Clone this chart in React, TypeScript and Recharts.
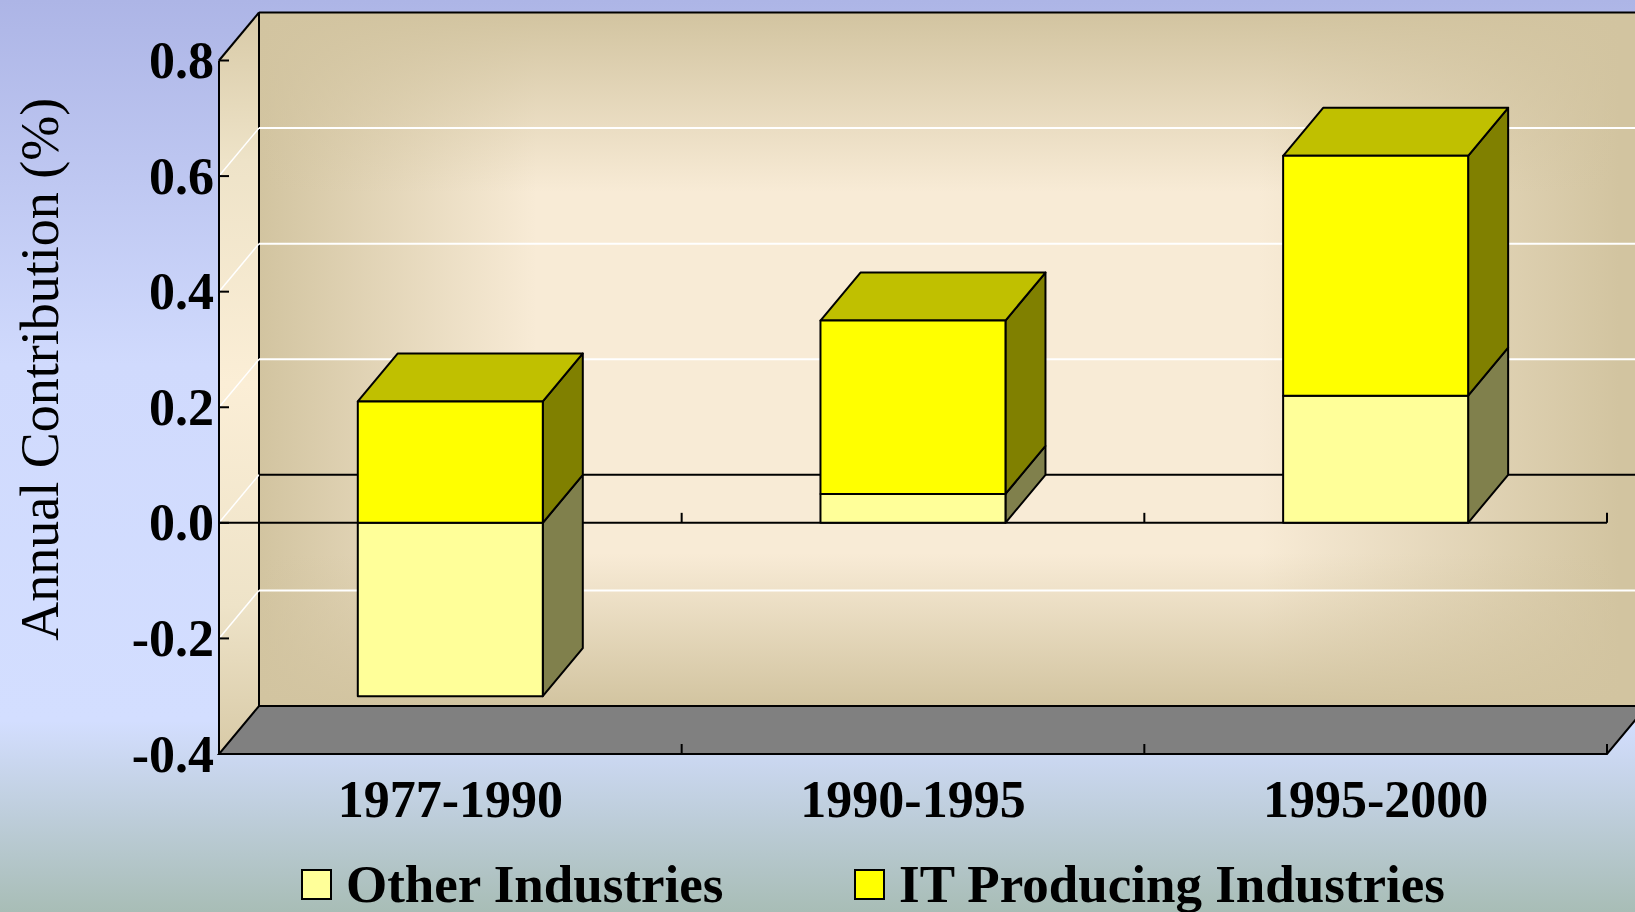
import { Bar, BarChart, Legend, ReferenceArea, ReferenceLine, XAxis, YAxis } from "recharts";

// values (annual contribution, %)
const periods = ["1977-1990", "1990-1995", "1995-2000"];
const otherIndustries = [-0.3, 0.05, 0.22];
const itProducing = [0.21, 0.3, 0.415];
const yTicks = [-0.4, -0.2, 0, 0.2, 0.4, 0.6, 0.8];
const wallGridValues = [-0.2, 0, 0.2, 0.4, 0.6];

const SERIES = [
  { key: "other", name: "Other Industries", front: "#FFFF99", side: "#80804C", top: "#C0C073" },
  { key: "it", name: "IT Producing Industries", front: "#FFFF00", side: "#808000", top: "#C0C000" },
];

const data = periods.map((p, i) => ({ period: p, other: otherIndustries[i], it: itProducing[i] }));

// depth of the fake 3d box
const DX = 40;
const DY = 48;
const FONT = '"Liberation Serif", "Times New Roman", serif';
const W = 1635;
const H = 912;

function Walls(props: any) {
  const { x, y, width, height } = props;
  const bottom = y + height;
  const right = x + width;
  const n = periods.length;
  const bounds: number[] = [];
  for (let i = 1; i <= n; i++) bounds.push(x + (width * i) / n);
  return (
    <g>
      <defs>
        <linearGradient id="wallH" x1="0" y1="0" x2="1" y2="0">
          <stop offset="0" stopColor="#D2C4A0" stopOpacity={1} />
          <stop offset="0.2" stopColor="#D2C4A0" stopOpacity={0} />
          <stop offset="0.72" stopColor="#D2C4A0" stopOpacity={0} />
          <stop offset="0.98" stopColor="#D2C4A0" stopOpacity={1} />
        </linearGradient>
        <linearGradient id="wallV" x1="0" y1="0" x2="0" y2="1">
          <stop offset="0" stopColor="#D2C4A0" stopOpacity={1} />
          <stop offset="0.26" stopColor="#D2C4A0" stopOpacity={0} />
          <stop offset="0.78" stopColor="#D2C4A0" stopOpacity={0} />
          <stop offset="1" stopColor="#D2C4A0" stopOpacity={1} />
        </linearGradient>
        <linearGradient id="sideWall" x1="0" y1="0" x2="0" y2="1">
          <stop offset="0" stopColor="#D8CAA7" />
          <stop offset="0.2" stopColor="#EEE3C8" />
          <stop offset="0.5" stopColor="#FBEED6" />
          <stop offset="0.8" stopColor="#EEE3C8" />
          <stop offset="1" stopColor="#D8CAA7" />
        </linearGradient>
      </defs>
      {/* back wall */}
      <rect x={x + DX} y={y - DY} width={width} height={height} fill="#F8EBD6" />
      <rect x={x + DX} y={y - DY} width={width} height={height} fill="url(#wallH)" />
      <rect x={x + DX} y={y - DY} width={width} height={height} fill="url(#wallV)" />
      {/* left wall */}
      <polygon
        points={`${x},${y} ${x + DX},${y - DY} ${x + DX},${bottom - DY} ${x},${bottom}`}
        fill="url(#sideWall)"
      />
      {/* floor */}
      <polygon
        points={`${x},${bottom} ${right},${bottom} ${right + DX},${bottom - DY} ${x + DX},${bottom - DY}`}
        fill="#808080"
        stroke="#000"
        strokeWidth={2}
      />
      <line x1={x} y1={y} x2={x + DX} y2={y - DY} stroke="#000" strokeWidth={2} />
      <line x1={x + DX} y1={y - DY} x2={right + DX} y2={y - DY} stroke="#000" strokeWidth={2} />
      <line x1={x + DX} y1={y - DY} x2={x + DX} y2={bottom - DY} stroke="#000" strokeWidth={2} />
      {bounds.map((bx, i) => (
        <line key={i} x1={bx} y1={bottom} x2={bx} y2={bottom - 10} stroke="#000" strokeWidth={2} />
      ))}
    </g>
  );
}

function wallLine(v: number) {
  return (p: any) => (
    <g>
      <line x1={p.x1} y1={p.y1} x2={p.x1 + DX} y2={p.y1 - DY} stroke="#FFFFFF" strokeWidth={1.5} />
      <line
        x1={p.x1 + DX}
        y1={p.y1 - DY}
        x2={p.x2 + DX}
        y2={p.y2 - DY}
        stroke={v === 0 ? "#000" : "#FFFFFF"}
        strokeWidth={2}
      />
    </g>
  );
}

function ZeroLine(p: any) {
  const n = periods.length;
  const marks: number[] = [];
  for (let i = 1; i <= n; i++) marks.push(p.x1 + ((p.x2 - p.x1) * i) / n);
  return (
    <g>
      <line x1={p.x1} y1={p.y1} x2={p.x2} y2={p.y2} stroke="#000" strokeWidth={2} />
      {marks.map((mx, i) => (
        <line key={i} x1={mx} y1={p.y1} x2={mx} y2={p.y1 - 10} stroke="#000" strokeWidth={2} />
      ))}
    </g>
  );
}

function makeBox(s: (typeof SERIES)[number], showTop: boolean) {
  return (p: any) => {
    const { x, y, width, height } = p;
    if (x == null || y == null) return <g />;
    const t = Math.min(y, y + height);
    const h = Math.abs(height);
    const r = x + width;
    return (
      <g stroke="#000" strokeWidth={2} strokeLinejoin="round">
        <polygon points={`${r},${t} ${r + DX},${t - DY} ${r + DX},${t + h - DY} ${r},${t + h}`} fill={s.side} />
        {showTop && <polygon points={`${x},${t} ${x + DX},${t - DY} ${r + DX},${t - DY} ${r},${t}`} fill={s.top} />}
        <rect x={x} y={t} width={width} height={h} fill={s.front} />
      </g>
    );
  };
}

function YTick(p: any) {
  const { x, y, payload } = p;
  return (
    <g>
      <line x1={x} y1={y} x2={x + 10} y2={y} stroke="#000" strokeWidth={2} />
      <text
        x={x - 5}
        y={y}
        textAnchor="end"
        dominantBaseline="central"
        fontFamily={FONT}
        fontWeight="bold"
        fontSize={52}
        fill="#000"
      >
        {Number(payload.value).toFixed(1)}
      </text>
    </g>
  );
}

function XTick(p: any) {
  const { x, y, payload } = p;
  return (
    <text
      x={x}
      y={y + 45}
      textAnchor="middle"
      dominantBaseline="central"
      fontFamily={FONT}
      fontWeight="bold"
      fontSize={52}
      fill="#000"
    >
      {payload.value}
    </text>
  );
}

function YTitle(p: any) {
  const vb = p.viewBox || {};
  const cx = (vb.x ?? 0) + 40;
  const cy = vb.y != null && vb.height != null ? vb.y + vb.height / 2 - 38 : 369;
  return (
    <text
      x={cx}
      y={cy}
      transform={`rotate(-90 ${cx} ${cy})`}
      textAnchor="middle"
      dominantBaseline="central"
      fontFamily={FONT}
      fontSize={54}
      fill="#000"
    >
      Annual Contribution (%)
    </text>
  );
}

function LegendRow() {
  return (
    <div style={{ display: "flex", alignItems: "center", height: 60, paddingLeft: 301 }}>
      {SERIES.map((s, i) => (
        <div key={s.key} style={{ display: "flex", alignItems: "center", width: i === 0 ? 553 : undefined }}>
          <div
            style={{
              width: 27,
              height: 27,
              background: s.front,
              border: "2px solid #000",
              marginRight: 14,
            }}
          />
          <span style={{ fontFamily: FONT, fontWeight: "bold", fontSize: 53, color: "#000", whiteSpace: "nowrap" }}>
            {s.name}
          </span>
        </div>
      ))}
    </div>
  );
}

export default function App() {
  return (
    <div
      style={{
        position: "absolute",
        left: 0,
        top: 0,
        width: W,
        height: H,
        overflow: "hidden",
        background: "linear-gradient(to bottom, #ADB5E6 0%, #D0DAFD 40%, #D3DEFF 79%, #A8BDB6 100%)",
      }}
    >
      <BarChart
        width={W}
        height={H}
        data={data}
        stackOffset="sign"
        barCategoryGap="30%"
        margin={{ top: 60.5, right: 28, bottom: 0, left: 0 }}
      >
        <ReferenceArea y1={-0.4} y2={0.8} shape={Walls} zIndex={50} />
        {wallGridValues.map((v) => (
          <ReferenceLine key={v} y={v} shape={wallLine(v)} zIndex={60} />
        ))}
        <ReferenceLine y={0} shape={ZeroLine} zIndex={70} />
        <XAxis
          dataKey="period"
          type="category"
          height={158}
          interval={0}
          tickSize={0}
          tickMargin={0}
          tickLine={false}
          axisLine={{ stroke: "#000", strokeWidth: 2 }}
          tick={<XTick />}
        />
        <YAxis
          type="number"
          domain={[-0.4, 0.8]}
          ticks={yTicks}
          width={219}
          tickSize={0}
          tickMargin={0}
          tickLine={false}
          axisLine={{ stroke: "#000", strokeWidth: 2 }}
          tick={<YTick />}
          label={<YTitle />}
          allowDataOverflow
        />
        {SERIES.map((s, i) => (
          <Bar
            key={s.key}
            dataKey={s.key}
            name={s.name}
            stackId="s"
            fill={s.front}
            isAnimationActive={false}
            shape={makeBox(s, i === SERIES.length - 1)}
          />
        ))}
        <Legend
          layout="horizontal"
          verticalAlign="middle"
          align="center"
          wrapperStyle={{ top: 854, left: 0, width: W }}
          content={() => <LegendRow />}
        />
      </BarChart>
    </div>
  );
}
